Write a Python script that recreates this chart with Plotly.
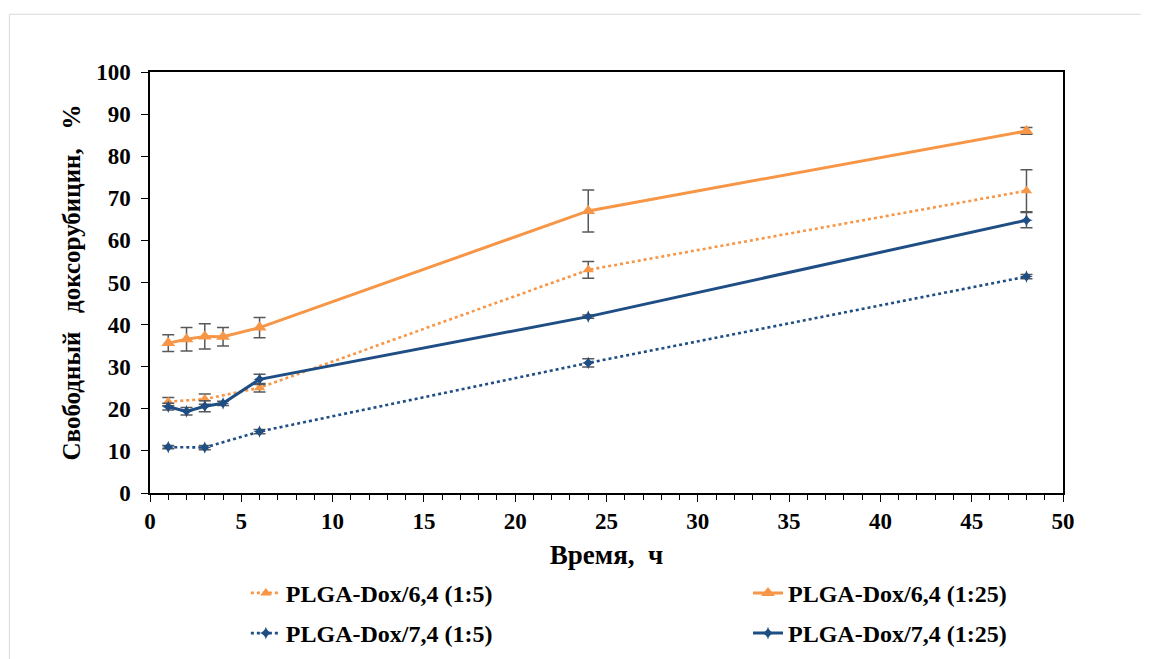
import plotly.graph_objects as go

# Data
x_64_5 = [1, 3, 6, 24, 48]
y_64_5 = [21.7, 22.3, 25.0, 53.0, 71.8]
e_64_5 = [1.0, 1.2, 1.0, 2.0, 5.0]

x_64_25 = [1, 2, 3, 4, 6, 24, 48]
y_64_25 = [35.6, 36.5, 37.2, 37.1, 39.3, 67.0, 86.0]
e_64_25 = [2.0, 2.8, 3.0, 2.2, 2.4, 5.0, 0.8]

x_74_5 = [1, 3, 6, 24, 48]
y_74_5 = [10.9, 10.8, 14.6, 30.9, 51.4]
e_74_5 = [0.4, 0.5, 0.5, 1.0, 0.5]

x_74_25 = [1, 2, 3, 4, 6, 24, 48]
y_74_25 = [20.5, 19.4, 20.6, 21.3, 27.0, 41.9, 64.8]
e_74_25 = [0.8, 0.9, 1.3, 0.5, 1.2, 0.4, 1.8]

names = ["PLGA-Dox/6,4 (1:5)", "PLGA-Dox/6,4 (1:25)", "PLGA-Dox/7,4 (1:5)", "PLGA-Dox/7,4 (1:25)"]
x_ticks = list(range(0, 51, 5))
y_ticks = list(range(0, 101, 10))

ORANGE = "#F79646"
BLUE = "#1F4E84"
ERR = "#595959"
FONT = "Liberation Serif"

fig = go.Figure()

def add(x, y, e, name, color, dash, symbol, msize, legend, group):
    fig.add_trace(go.Scatter(
        x=x, y=y, name=name, mode="lines+markers",
        line=dict(color=color, width=3 if dash == "solid" else 2.6, dash=dash),
        marker=dict(color=color, symbol=symbol, size=msize),
        error_y=dict(type="data", array=e, visible=True, color=ERR, thickness=1.5, width=6),
        legend=legend, legendgroup=group,
    ))

add(x_64_5, y_64_5, e_64_5, names[0], ORANGE, "dot", "triangle-up", 10, "legend", "a1")
add(x_74_5, y_74_5, e_74_5, names[2], BLUE, "dot", "star-diamond", 9, "legend", "a2")
add(x_64_25, y_64_25, e_64_25, names[1], ORANGE, "solid", "triangle-up", 12, "legend2", "b1")
add(x_74_25, y_74_25, e_74_25, names[3], BLUE, "solid", "star-diamond", 9, "legend2", "b2")

legend_common = dict(
    font=dict(family=FONT, size=24, color="black", weight="bold"),
    bgcolor="rgba(0,0,0,0)", orientation="v", traceorder="grouped",
    tracegroupgap=6, yanchor="top", xanchor="left",
)

tickfont = dict(family=FONT, size=23, color="black", weight="bold")

fig.update_layout(
    width=1149, height=659,
    paper_bgcolor="white", plot_bgcolor="white",
    margin=dict(l=142, r=94, t=64, b=173),
    font=dict(family=FONT, color="black"),
    showlegend=True,
    legend=dict(x=0.105, y=-0.182, **legend_common),
    legend2=dict(x=0.655, y=-0.182, **legend_common),
    xaxis=dict(
        range=[0, 50], tickvals=x_ticks, ticks="outside", ticklen=7, tickwidth=1.3,
        tickcolor="black", showline=True, linecolor="black", linewidth=1.5, mirror=True,
        showgrid=False, zeroline=False,
        minor=dict(dtick=1, ticks="outside", ticklen=5, tickcolor="black", tickwidth=1),
        tickfont=tickfont,
        title=dict(text="Время,  ч", font=dict(family=FONT, size=27, color="black", weight="bold"), standoff=12),
    ),
    yaxis=dict(
        range=[0, 100], tickvals=y_ticks, ticks="outside", ticklen=7, tickwidth=1.3,
        tickcolor="black", showline=True, linecolor="black", linewidth=1.5, mirror=True,
        showgrid=False, zeroline=False, ticklabelstandoff=6,
        tickfont=tickfont,
        title=dict(text="Свободный   доксорубицин,   %", font=dict(family=FONT, size=25, color="black", weight="bold"), standoff=8),
    ),
    xaxis2=dict(
        overlaying="x", anchor="y", range=[0, 50], tickvals=x_ticks, ticks="inside",
        ticklen=7, tickwidth=1.3, tickcolor="black", showticklabels=False,
        showgrid=False, zeroline=False, showline=False,
        minor=dict(dtick=1, ticks="inside", ticklen=5, tickcolor="black", tickwidth=1),
    ),
    yaxis2=dict(
        overlaying="y", anchor="x", side="left", range=[0, 100], tickvals=y_ticks,
        ticks="inside", ticklen=7, tickwidth=1.3, tickcolor="black", showticklabels=False,
        showgrid=False, zeroline=False, showline=False,
    ),
    shapes=[dict(type="rect", xref="paper", yref="paper", x0=-0.154, x1=1.2, y0=-0.6, y1=1.137,
                 line=dict(color="#D9D9D9", width=1), layer="below")],
)

fig.write_html("out.html")
